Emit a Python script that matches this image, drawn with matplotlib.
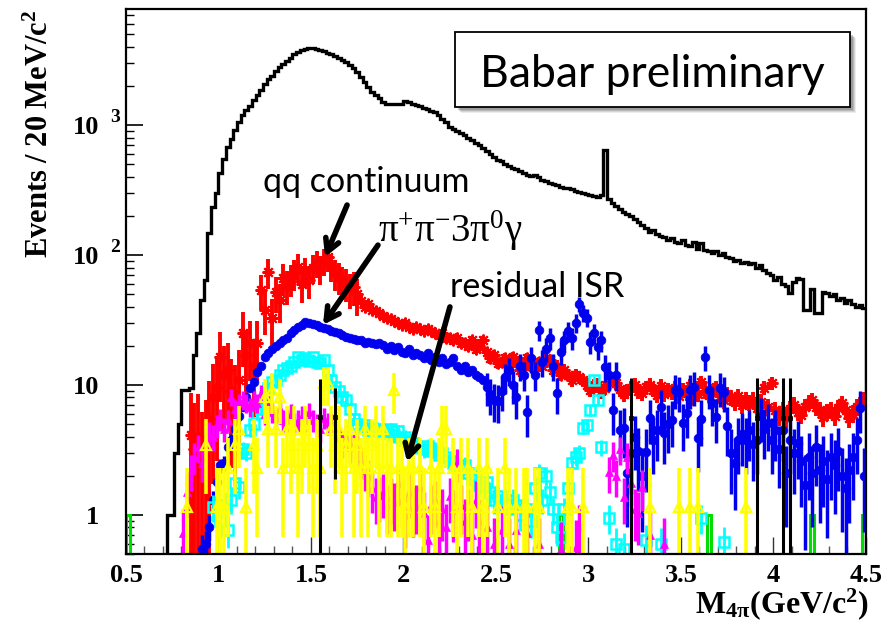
import numpy as np
import matplotlib
matplotlib.use("Agg")
import matplotlib.pyplot as plt
from matplotlib.patches import Rectangle
from matplotlib import transforms

# ---------------- data ----------------
mass_range = (0.5, 4.5)
bin_width = 0.02                      # 20 MeV/c^2 bins
y_range = (0.5, 7800)

# all selected 4pi events, bins from 0.70 GeV upward
events_first_edge = 0.70
events = [
    0, 1.0, 1.0, 3.0, 5.0, 9.2, 9.2, 9.5, 17, 25,
    45, 64, 147, 234, 300, 425, 550, 680, 780, 915,
    1050, 1200, 1300, 1400, 1550, 1700, 1860, 2050, 2250, 2400,
    2600, 2800, 2950, 3100, 3300, 3500, 3650, 3800, 3850, 3930,
    3900, 3850, 3750, 3700, 3600, 3500, 3400, 3250, 3150, 3050,
    2900, 2750, 2550, 2350, 2150, 1950, 1800, 1700, 1600, 1500,
    1460, 1450, 1450, 1440, 1450, 1520, 1500, 1460, 1430, 1400,
    1360, 1330, 1290, 1250, 1200, 1120, 1050, 960, 930, 900,
    870, 840, 800, 770, 730, 700, 660, 630, 600, 570,
    540, 530, 500, 485, 470, 455, 440, 430, 415, 405,
    415, 395, 380, 370, 360, 350, 345, 335, 330, 325,
    320, 310, 305, 300, 295, 290, 285, 280, 290, 640,
    270, 250, 240, 225, 215, 205, 200, 190, 180, 170,
    160, 150, 155, 145, 140, 137, 130, 135, 125, 123,
    130, 120, 118, 125, 112, 123, 110, 108, 103, 108,
    100, 104, 97, 95, 90, 92, 87, 88, 85, 87,
    80, 84, 76, 73, 70, 64, 68, 60, 58, 51,
    62, 67, 65, 38, 38, 55, 36, 36, 52, 51,
    48, 50, 45, 47, 43, 45, 42, 40, 41, 39,
]

# qq continuum background, bin centres from 0.85 GeV
qq_first_center = 0.85
qq_values = [
    4.1, 3.2, 4.0, 2.6, 3.5, 5.5, 8.1, 9.5, 16.4, 12,
    13, 9, 8, 11, 25, 17, 21, 14, 21, 54,
    38, 74, 33, 52, 45, 67, 58, 66, 72, 81,
    60, 75, 64, 80, 87, 78, 90, 96, 82, 72,
    68, 63, 61, 55, 57, 50, 44, 40, 42, 38,
    37, 36, 34, 33, 32, 31, 30, 29, 30, 28,
    27, 28, 27, 26, 27, 26, 25, 24, 25, 23,
    23, 22, 23, 21, 21, 20, 22, 19, 20, 22,
    18, 16, 17, 14.7, 15, 16, 14, 16.4, 15, 13,
    14, 16, 14, 13, 15, 14, 16, 15.5, 13, 14,
    12, 13, 12, 11, 12, 11.5, 10.9, 10, 9.2, 9.8,
    10, 9, 9.5, 10.3, 11, 10.3, 9.3, 8.5, 9, 9.5,
    10, 9, 8.6, 9.6, 10, 9.2, 8.4, 9.8, 8.5, 9.2,
    8.8, 9.5, 8.2, 9.2, 8.6, 9.8, 8.0, 8.5, 10.5, 9.0,
    8.4, 9.0, 9.6, 8.2, 7.6, 8.5, 8.0, 7.4, 8.2, 7.0,
    7.7, 7.3, 7.7, 6.6, 7.4, 9.5, 6.8, 10.3, 6.4, 5.8,
    6.4, 5.6, 6.5, 7.0, 6.2, 5.9, 6.8, 7.3, 7.6, 6.8,
    6.4, 5.7, 6.2, 6.4, 5.8, 6.6, 7.2, 6.4, 5.6, 6.0,
    6.8, 7.0, 7.7,
]
qq_weight_low, qq_weight_high, qq_weight_split = 5.0, 0.15, 1.77

# pi+ pi- 3pi0 gamma background, bin centres from 0.91 GeV
pi5_first_center = 0.91
pi5_values = [
    0.55, 0.6, 0.81, 1.3, 1.8, 2.4, 2.5, 3.3, 3.8, 4.6,
    5.8, 6.8, 8.0, 9.5, 10.6, 12.5, 14, 16.5, 17.6, 19,
    20, 21, 22, 23, 25, 26.5, 28, 29, 30.5, 30,
    29.5, 29, 28, 27.5, 27, 26, 25.5, 25, 24, 23.5,
    23, 22.5, 22, 22, 21, 21.5, 21, 20.5, 21, 20.4,
    19, 20, 18.5, 19.5, 18, 17.5, 19, 17, 17.6, 17,
    16, 17.5, 15.5, 16.5, 15, 16, 14.5, 15, 16, 14,
    13, 14, 12.5, 13, 12, 11.5, 11, 9.6, 8.5, 7.7,
    7.5, 9, 11.5, 13, 10, 8, 14, 12, 6.2, 16,
    12, 26.5, 15, 19, 23, 14, 8.6, 18, 22, 26,
    23, 30, 42, 36, 33, 21.5, 25, 19.6, 22, 13.8,
    12, 6.4, 12, 4.5, 4.7, 2.1, 3.0, 4.0, 3.1, 2.0,
    3.05, 5.6, 3.8, 4.5, 6.8, 4.3, 5.0, 5.4, 9.2, 8.8,
    5.1, 6.1, 9.2, 9.7, 3.9, 5.5, 16.4, 9.2, 7.2, 5.7,
    9.5, 8.8, 4.8, 3.0, 2.5, 3.8, 4.2, 3.8, 4.5, 3.5,
    3.8, 5.8, 4.6, 5.1, 3.8, 4.5, 3.2, 4.5, 2.1, 3.8,
    3.0, 3.6, 2.6, 1.7, 2.8, 2.1, 3.3, 2.2, 2.6, 1.9,
    2.8, 2.4, 3.1, 2.0, 1.6, 2.2, 2.8, 3.8, 6.6, 2.0,
]
pi5_weight_low, pi5_weight_high, pi5_weight_split = 0.04, 0.8, 2.45

# cyan background channel, bin centres from 0.97 GeV (0 = empty bin)
cyan_first_center = 0.97
cyan_values = [
    1.15, 0, 0.9, 1.2, 0.77, 1.3, 1.76, 1.64, 3.2, 3.0,
    4.5, 5.0, 6.1, 6.5, 8.0, 9.5, 10.5, 11, 12, 13,
    13.5, 14, 15, 16.4, 15.5, 16, 15.2, 16.4, 15, 14.7,
    15.5, 13, 11, 9.7, 9.0, 8.0, 7.7, 6.5, 5.5, 5.0,
    4.7, 4.9, 4.5, 4.7, 4.4, 4.6, 4.5, 4.3, 4.6, 4.1,
    4.4, 3.8, 4.0, 3.7, 3.6, 3.4, 3.3, 3.2, 3.4, 3.1,
    3.2, 2.9, 3.0, 2.8, 2.6, 2.5, 2.4, 2.3, 2.4, 2.1,
    1.9, 2.0, 1.7, 1.64, 1.8, 1.5, 1.3, 1.4, 1.2, 1.3,
    1.1, 1.3, 1.2, 1.0, 0, 1.1, 0.9, 1.6, 2.1, 1.3,
    2.0, 1.5, 1.1, 0.8, 0.68, 1.1, 1.6, 2.5, 2.8, 3.0,
    4.7, 4.9, 6.4, 10.9, 7.7, 3.3, 0, 0.95, 0, 0.6,
    0, 0.55, 0, 0, 0, 0, 0, 0.64, 0, 0,
    0, 0.6, 0, 0, 0, 0, 0, 0, 0, 0,
    0, 0, 0.95, 0, 0, 0, 0, 0, 0.62, 0,
]
cyan_weight = 0.06

# magenta background channel
magenta_mass = [
    0.81, 0.83, 0.85, 0.87, 0.89, 0.91, 0.93, 0.95, 0.97, 0.99,
    1.01, 1.03, 1.05, 1.07, 1.09, 1.11, 1.13, 1.15, 1.17, 1.19,
    1.21, 1.23, 1.25, 1.27, 1.29, 1.31, 1.33, 1.35, 1.37, 1.39,
    1.41, 1.43, 1.45, 1.47, 1.49, 1.51, 1.53, 1.55, 1.57, 1.59,
    1.61, 1.63, 1.65, 1.67, 1.69, 1.71, 1.73, 1.75, 1.77, 1.79,
    1.81, 1.83, 1.85, 1.87, 1.89, 1.91, 1.93, 1.95, 1.97, 1.99,
    2.01, 2.03, 2.05, 2.07, 2.09, 2.11, 2.13, 2.15, 2.17, 2.19,
    2.21, 2.23, 2.25, 2.27, 2.29, 2.31, 2.33, 2.35, 2.37, 2.39,
    2.41, 2.45, 2.49, 2.53, 2.57, 2.61, 2.67, 2.73, 2.85, 2.93,
    2.95, 3.11, 3.13, 3.15, 3.17, 3.19, 3.21, 3.23, 3.25, 3.27,
    3.29, 3.33, 3.41,
]
magenta_value = [
    0.73, 1.5, 2.2, 2.8, 3.3, 2.5, 3.8, 4.3, 4.0, 4.9,
    5.5, 4.6, 5.4, 8.1, 6.5, 7.3, 7.7, 7.3, 6.8, 7.7,
    7.3, 8.6, 6.0, 7.0, 6.2, 5.6, 6.5, 5.4, 5.4, 6.0,
    5.1, 5.4, 5.8, 5.4, 6.2, 5.4, 5.0, 4.6, 5.6, 5.1,
    5.1, 4.5, 3.9, 3.6, 4.0, 3.3, 3.6, 3.3, 2.6, 2.2,
    2.0, 1.6, 1.38, 1.42, 1.5, 1.2, 1.38, 1.26, 1.76, 1.3,
    1.0, 1.5, 1.15, 1.2, 1.64, 1.04, 0.64, 1.2, 1.3, 0.9,
    1.1, 0.81, 1.4, 1.09, 2.5, 1.2, 0.9, 1.1, 0.7, 1.3,
    0.9, 0.8, 0.6, 0.77, 0.6, 0.77, 0.73, 0.6, 0.55, 0.57,
    0.8, 2.14, 2.9, 2.0, 3.2, 1.38, 2.8, 1.76, 1.1, 1.04,
    1.64, 0.7, 0.6,
]
magenta_weight = 0.2

# residual ISR: weighted event counts (weight per event below)
isr_event_weight = 1.15
isr_mass = [
    0.83, 0.93, 0.99, 1.01, 1.03, 1.05, 1.09, 1.11, 1.15, 1.19,
    1.21, 1.25, 1.27, 1.29, 1.31, 1.33, 1.35, 1.37, 1.39, 1.41,
    1.43, 1.45, 1.47, 1.49, 1.51, 1.53, 1.55, 1.57, 1.59, 1.61,
    1.63, 1.65, 1.67, 1.69, 1.71, 1.73, 1.75, 1.77, 1.79, 1.81,
    1.83, 1.85, 1.87, 1.89, 1.91, 1.93, 1.95, 1.97, 1.99, 2.01,
    2.03, 2.05, 2.09, 2.11, 2.15, 2.17, 2.19, 2.21,
    2.23, 2.27, 2.29, 2.31, 2.35, 2.37, 2.41,
    2.43, 2.45, 2.51, 2.55, 2.57, 2.61,
    2.65, 2.67, 2.71, 2.73, 2.89, 2.91, 2.97, 3.33, 3.49,
    3.55, 3.59, 3.85,
]
isr_events = [
    1, 3, 1, 1, 1, 2, 3, 4, 1, 3,
    2, 7, 4, 8, 4, 7, 2, 4, 3, 4,
    2, 3, 4, 3, 2, 3, 2, 9, 9, 4,
    3, 4, 2, 3, 4, 2, 3, 2, 4, 2,
    3, 4, 2, 4, 2, 2, 8, 2, 2, 1,
    2, 2, 2, 1, 2, 1, 2, 4,
    4, 2, 1, 2, 2, 1, 2,
    1, 2, 1, 2, 1, 1,
    1, 1, 1, 1, 1, 1, 1, 1, 1,
    1, 1, 1,
]

# black points with large uncertainties
black_mass = [1.55, 1.63, 3.23, 3.91, 4.05, 4.09]
black_value = [5.7, 5.7, 5.6, 5.6, 5.6, 5.6]
black_error = [5.5, 3.8, 5.7, 5.7, 5.7, 5.7]

# green channel: single-entry bins
green_mass = [0.51, 2.85, 3.65, 4.21, 4.49]
green_value = [1.0, 1.0, 1.0, 1.0, 1.0]

# ---------------- style ----------------
plt.rcParams.update({
    "mathtext.fontset": "custom",
    "mathtext.rm": "Liberation Serif",
    "mathtext.it": "Liberation Serif:italic",
    "mathtext.bf": "Liberation Serif:bold",
})
SERIF = "Liberation Serif"
SANS = "Lato"

fig = plt.figure(figsize=(8.95, 6.24), dpi=100)
ax = fig.add_axes([126 / 895, 1 - 554 / 624, 740 / 895, 545 / 624])
ax.set_yscale("log")
ax.set_xlim(*mass_range)
ax.set_ylim(*y_range)

n_bins = int(round((mass_range[1] - mass_range[0]) / bin_width))
edges = mass_range[0] + bin_width * np.arange(n_bins + 1)
floor = 0.3


def bin_index(m):
    return int(np.floor((m - mass_range[0]) / bin_width + 1e-6))


def centres(first, n):
    return first + bin_width * np.arange(n)


# full data histogram
h_all = np.zeros(n_bins)
i0 = bin_index(events_first_edge + 1e-3)
h_all[i0:i0 + len(events)] = events
ax.stairs(np.where(h_all > 0, h_all, floor), edges, baseline=floor,
          color="black", lw=2.4, zorder=3)

# green single-entry bins
h_green = np.zeros(n_bins)
for m, v in zip(green_mass, green_value):
    h_green[bin_index(m)] = v
ax.stairs(np.where(h_green > 0, h_green, floor), edges, baseline=floor,
          color="#00dd00", lw=2.2, zorder=4)


def draw_points(x, y, err, color, marker, ms, mew, elw, mfc, z):
    x = np.asarray(x, float)
    y = np.asarray(y, float)
    err = np.asarray(err, float)
    keep = y > 0
    x, y, err = x[keep], y[keep], err[keep]
    lower = np.minimum(err, y - 0.05)
    ax.errorbar(x, y, yerr=[lower, err], fmt="none", ecolor=color,
                elinewidth=elw, capsize=0, zorder=z)
    ax.plot(x, y, linestyle="none", marker=marker, ms=ms, mew=mew,
            mec=color, mfc=mfc, zorder=z + 0.1)


# qq continuum
qq_x = centres(qq_first_center, len(qq_values))
qq_y = np.array(qq_values)
qq_w = np.where(qq_x < qq_weight_split, qq_weight_low, qq_weight_high)
draw_points(qq_x, qq_y, np.sqrt(qq_y * qq_w), "red", (8, 2, 0), 8.5, 1.5, 2.8, "red", 5)

# pi+ pi- 3pi0 gamma
p5_x = centres(pi5_first_center, len(pi5_values))
p5_y = np.array(pi5_values)
p5_w = np.where(p5_x < pi5_weight_split, pi5_weight_low, pi5_weight_high)
draw_points(p5_x, p5_y, np.sqrt(p5_y * p5_w), "#0000ee", "o", 6.3, 0.5, 2.5, "#0000ee", 6)

# cyan channel
cy_x = centres(cyan_first_center, len(cyan_values))
cy_y = np.array(cyan_values)
draw_points(cy_x, cy_y, np.sqrt(cy_y * cyan_weight), "cyan", "s", 6.5, 1.8, 2.0, "none", 7)

# magenta channel
mg_y = np.array(magenta_value)
draw_points(magenta_mass, mg_y, np.sqrt(mg_y * magenta_weight), "magenta", "^", 5.5, 0.5, 2.5, "magenta", 8)

# residual ISR
isr_y = np.array(isr_events) * isr_event_weight
isr_err = np.sqrt(np.array(isr_events, float)) * isr_event_weight
draw_points(isr_mass, isr_y, isr_err, "yellow", "^", 7.5, 1.6, 2.6, "none", 9)

# black points
draw_points(black_mass, black_value, black_error, "black", "s", 3.5, 0.5, 2.2, "black", 10)

# ---------------- axes cosmetics ----------------
for s in ax.spines.values():
    s.set_linewidth(1.6)
    s.set_zorder(20)

ax.set_xticks(np.arange(0.5, 4.51, 0.5))
ax.set_xticks(np.arange(0.5, 4.51, 0.1), minor=True)
ax.set_xticklabels(["0.5", "1", "1.5", "2", "2.5", "3", "3.5", "4", "4.5"],
                   fontfamily=SERIF, fontweight="bold", fontsize=19)
ax.tick_params(axis="x", which="major", direction="in", length=12, width=1.0,
               pad=7, top=False, color="#333333")
ax.tick_params(axis="x", which="minor", direction="in", length=6, width=1.0,
               top=False, color="#555555")
ax.tick_params(axis="y", which="major", direction="in", length=12, width=1.2,
               right=False, labelleft=False)
ax.tick_params(axis="y", which="minor", direction="in", length=6, width=1.0,
               right=False, labelleft=False)
ax.yaxis.set_major_locator(matplotlib.ticker.LogLocator(base=10, numticks=10))
ax.yaxis.set_minor_locator(matplotlib.ticker.LogLocator(base=10, subs=np.arange(2, 10), numticks=20))

# y tick labels: mantissa plus raised exponent
y_tick_values = [1, 10, 100, 1000]
y_tick_base = ["1", "10", "10", "10"]
y_tick_exp = ["", "", "2", "3"]
ytrans = ax.get_yaxis_transform()
for val, base, ex in zip(y_tick_values, y_tick_base, y_tick_exp):
    ax.text(-27 / 740, val, base, transform=ytrans, ha="right", va="center_baseline",
            fontfamily=SERIF, fontweight="bold", fontsize=19, clip_on=False)
    if ex:
        sup = transforms.offset_copy(ytrans, fig=fig, x=0, y=9, units="dots")
        ax.text(-16 / 740, val, ex, transform=sup, ha="left", va="center_baseline",
                fontfamily=SERIF, fontweight="bold", fontsize=14, clip_on=False)

fig.text(40 / 895, 1 - 10 / 624, r"Events / 20 MeV/c$^{\mathbf{2}}$", rotation=90,
         ha="center", va="top", fontfamily=SERIF, fontweight="bold", fontsize=22)
fig.text(869 / 895, 1 - 613 / 624, r"M$_{\mathbf{4\pi}}$(GeV/c$^{\mathbf{2}}$)",
         ha="right", va="baseline", fontfamily=SERIF, fontweight="bold", fontsize=23)

# ---------------- annotations ----------------
box_x0, box_y0, box_w, box_h = 0.4446, 0.820, 0.5334, 0.138
for k, a in enumerate([0.10, 0.14, 0.20, 0.26]):
    off = transforms.offset_copy(ax.transAxes, fig=fig, x=6 - k, y=-(6 - k), units="dots")
    ax.add_patch(Rectangle((box_x0, box_y0), box_w, box_h, transform=off,
                           facecolor=(0.3, 0.3, 0.3, a), edgecolor="none", zorder=24))
ax.add_patch(Rectangle((box_x0, box_y0), box_w, box_h, transform=ax.transAxes,
                       facecolor="white", edgecolor="black", lw=1.3, zorder=25))
ax.text(box_x0 + box_w / 2, 0.857, "Babar preliminary", transform=ax.transAxes,
        ha="center", va="baseline", fontfamily=SANS, fontsize=32, zorder=26)

ax.text(1.24, 305, "qq continuum", ha="left", va="baseline", fontfamily=SANS,
        fontsize=24.5, zorder=30)
ax.text(1.862, 126, r"$\mathrm{\pi^{+}\pi^{-}3\pi^{0}\gamma}$", ha="left", va="baseline",
        fontsize=28, zorder=30)
ax.text(2.251, 47.5, "residual ISR", ha="left", va="baseline", fontfamily=SANS,
        fontsize=24.5, zorder=30)

arrow_kw = dict(arrowstyle="->,head_length=0.9,head_width=0.5", lw=4.0, color="black",
                shrinkA=0, shrinkB=0)
ax.annotate("", xy=(1.576, 96.5), xytext=(1.695, 242), arrowprops=arrow_kw, zorder=31)
ax.annotate("", xy=(1.565, 29), xytext=(1.862, 119), arrowprops=arrow_kw, zorder=31)
ax.annotate("", xy=(2.019, 2.56), xytext=(2.251, 39.8), arrowprops=arrow_kw, zorder=31)

fig.savefig("out.png", dpi=100)
